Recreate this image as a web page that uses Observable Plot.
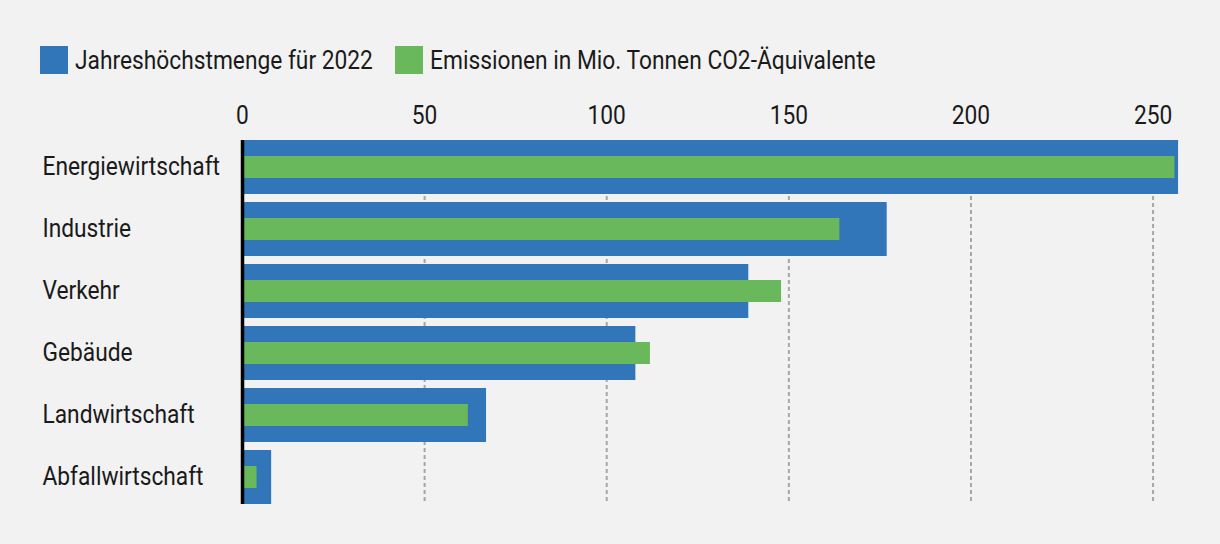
<!DOCTYPE html>
<html>
<head>
<meta charset="utf-8">
<script src="https://cdn.jsdelivr.net/npm/d3@7"></script>
<script src="https://cdn.jsdelivr.net/npm/@observablehq/plot@0.6"></script>
<style>
  html, body { margin: 0; padding: 0; background: #f2f2f2; }
  body { width: 1220px; height: 544px; overflow: hidden; font-family: Roboto, sans-serif; color: #1a1a1a; }
  #legend { height: 90px; box-sizing: border-box; padding-top: 30px; padding-left: 40px; display: flex; align-items: center; font-size: 26px; white-space: nowrap; }
  #legend .item { display: flex; align-items: center; margin-right: 22px; height: 30px; }
  #legend .sw { width: 28px; height: 28px; margin-right: 7px; flex: none; }
  #legend span { display: inline-block; transform: scaleX(0.875); transform-origin: 0 50%; }
  #chart svg { display: block; }
</style>
</head>
<body>
<div id="legend"></div>
<div id="chart"></div>
<script>
const categories = ["Energiewirtschaft", "Industrie", "Verkehr", "Gebäude", "Landwirtschaft", "Abfallwirtschaft"];
const limit2022 = [257, 177, 139, 108, 67, 8];
const emissions2022 = [256, 164, 148, 112, 62, 4];
const seriesNames = ["Jahreshöchstmenge für 2022", "Emissionen in Mio. Tonnen CO2-Äquivalente"];
const seriesColors = ["#3176b9", "#6ab85c"];
const xTicks = [0, 50, 100, 150, 200, 250];

const condense = 0.875;

const limitData = categories.map((c, i) => ({category: c, value: limit2022[i]}));
const emissionData = categories.map((c, i) => ({category: c, value: emissions2022[i]}));

const legend = document.getElementById("legend");
seriesNames.forEach((name, i) => {
  const item = document.createElement("div");
  item.className = "item";
  const sw = document.createElement("div");
  sw.className = "sw";
  sw.style.background = seriesColors[i];
  const label = document.createElement("span");
  label.textContent = name;
  item.appendChild(sw);
  item.appendChild(label);
  legend.appendChild(item);
  const w = label.getBoundingClientRect().width / condense;
  label.style.marginRight = (-(w * (1 - condense))) + "px";
});

const chart = Plot.plot({
  width: 1220,
  height: 454,
  marginTop: 42,
  marginBottom: 32,
  marginLeft: 242,
  marginRight: 31,
  style: {background: "#f2f2f2", fontFamily: "Roboto, sans-serif", fontSize: "26px", color: "#1a1a1a"},
  x: {domain: [0, 260]},
  y: {domain: categories, padding: 0.129},
  marks: [
    Plot.ruleX(xTicks.filter(d => d > 0), {stroke: "#a6a6a6", strokeWidth: 2, strokeDasharray: "4,3", insetTop: 8, insetBottom: 8}),
    Plot.barX(limitData, {y: "category", x: "value", fill: seriesColors[0]}),
    Plot.barX(emissionData, {y: "category", x: "value", fill: seriesColors[1], insetTop: 16, insetBottom: 16}),
    Plot.ruleX([0], {stroke: "#000", strokeWidth: 3.5, insetTop: 8, insetBottom: 8}),
    Plot.axisX({anchor: "top", ticks: xTicks, tickSize: 0, tickPadding: 9, label: null, fontSize: 26}),
    Plot.axisY({anchor: "left", tickSize: 0, tickPadding: 200, textAnchor: "start", label: null, fontSize: 26, dy: -1})
  ]
});

// condense glyphs horizontally around each label's anchor point
d3.select(chart).selectAll("text").each(function() {
  let t = this.getAttribute("transform") || "";
  const x = this.getAttribute("x");
  if (x !== null && /^-?[\d.]+$/.test(x.trim())) {
    t += ` translate(${x},0)`;
    this.removeAttribute("x");
  }
  this.setAttribute("transform", (t + ` scale(${condense},1)`).trim());
});

document.getElementById("chart").appendChild(chart);
</script>
</body>
</html>
